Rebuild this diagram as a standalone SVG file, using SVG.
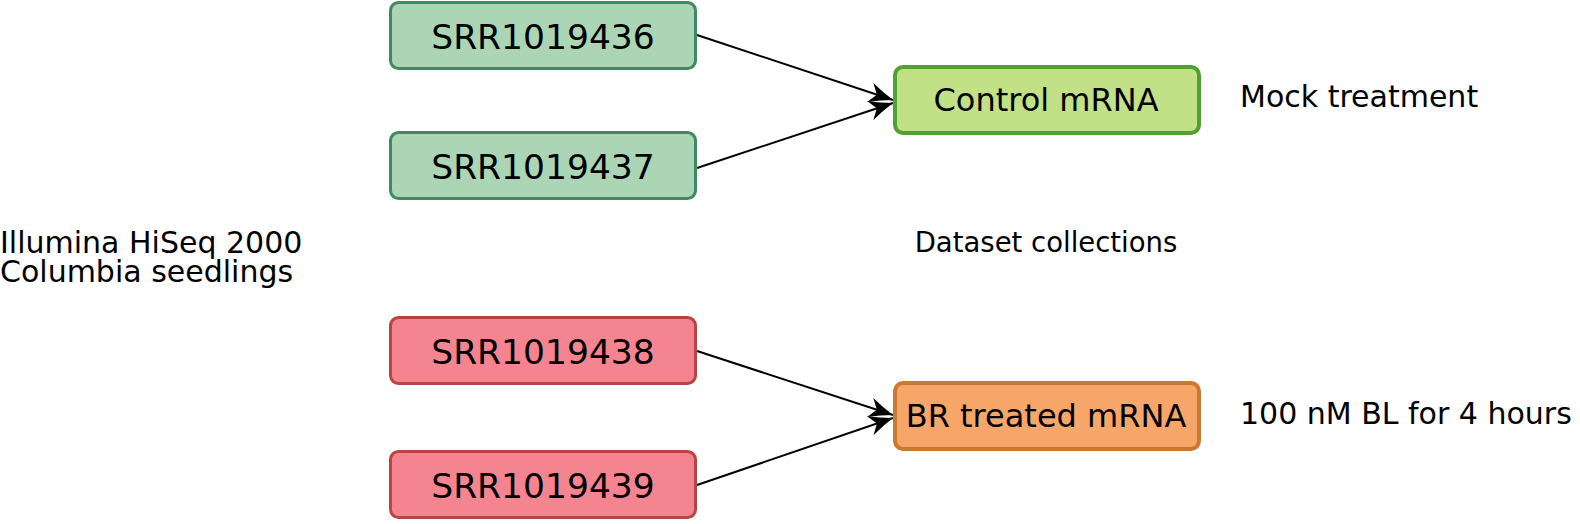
<svg xmlns="http://www.w3.org/2000/svg" width="1580" height="524" viewBox="0 0 1580 524">
<style>
text{font-family:"DejaVu Sans","Liberation Sans",sans-serif;fill:#000}
.nt{font-size:34.5px;text-anchor:middle}
.tt{font-size:32px;text-anchor:middle}
.lbl{font-size:30px}
.edge{stroke:#000;stroke-width:2;fill:none}
.g{fill:#abd5b4;stroke:#3f8a60;stroke-width:3}
.r{fill:#f4848f;stroke:#b84444;stroke-width:3}
.c{fill:#c2e085;stroke:#52a032;stroke-width:4}
.o{fill:#f7a669;stroke:#c97a2e;stroke-width:4}
</style>
<defs>
<marker id="ah" viewBox="0 0 24 20" refX="24" refY="10" markerWidth="24" markerHeight="20" markerUnits="userSpaceOnUse" orient="auto">
<path d="M0,0 Q12,6 24,10 Q12,14 0,20 L7,10 Z" fill="#000"/>
</marker>
</defs>
<g id="connectors">
<line class="edge" x1="697" y1="35" x2="893" y2="100" marker-end="url(#ah)"/>
<line class="edge" x1="697" y1="168" x2="893" y2="103" marker-end="url(#ah)"/>
<line class="edge" x1="697" y1="351" x2="893" y2="415" marker-end="url(#ah)"/>
<line class="edge" x1="697" y1="485" x2="893" y2="418" marker-end="url(#ah)"/>
</g>
<g id="n436"><rect class="g" x="390.5" y="2.5" width="305" height="66" rx="8"/><text class="nt" x="543" y="49">SRR1019436</text></g>
<g id="n437"><rect class="g" x="390.5" y="132.5" width="305" height="66" rx="8"/><text class="nt" x="543" y="179">SRR1019437</text></g>
<g id="n438"><rect class="r" x="390.5" y="317.5" width="305" height="66" rx="8"/><text class="nt" x="543" y="364">SRR1019438</text></g>
<g id="n439"><rect class="r" x="390.5" y="451.5" width="305" height="66" rx="8"/><text class="nt" x="543" y="498">SRR1019439</text></g>
<g id="control"><rect class="c" x="895" y="67" width="304" height="66" rx="8"/><text class="tt" x="1046" y="111">Control mRNA</text></g>
<g id="br"><rect class="o" x="895" y="383" width="304" height="66" rx="8"/><text class="tt" x="1046" y="427">BR treated mRNA</text></g>
<g id="labels">
<text class="lbl" x="0" y="253">Illumina HiSeq 2000<tspan x="0" y="282">Columbia seedlings</tspan></text>
<text class="lbl" x="1240" y="107">Mock treatment</text>
<text x="1046" y="252" style="font-size:27.5px;text-anchor:middle">Dataset collections</text>
<text class="lbl" x="1240" y="424">100 nM BL for 4 hours</text>
</g>
</svg>
